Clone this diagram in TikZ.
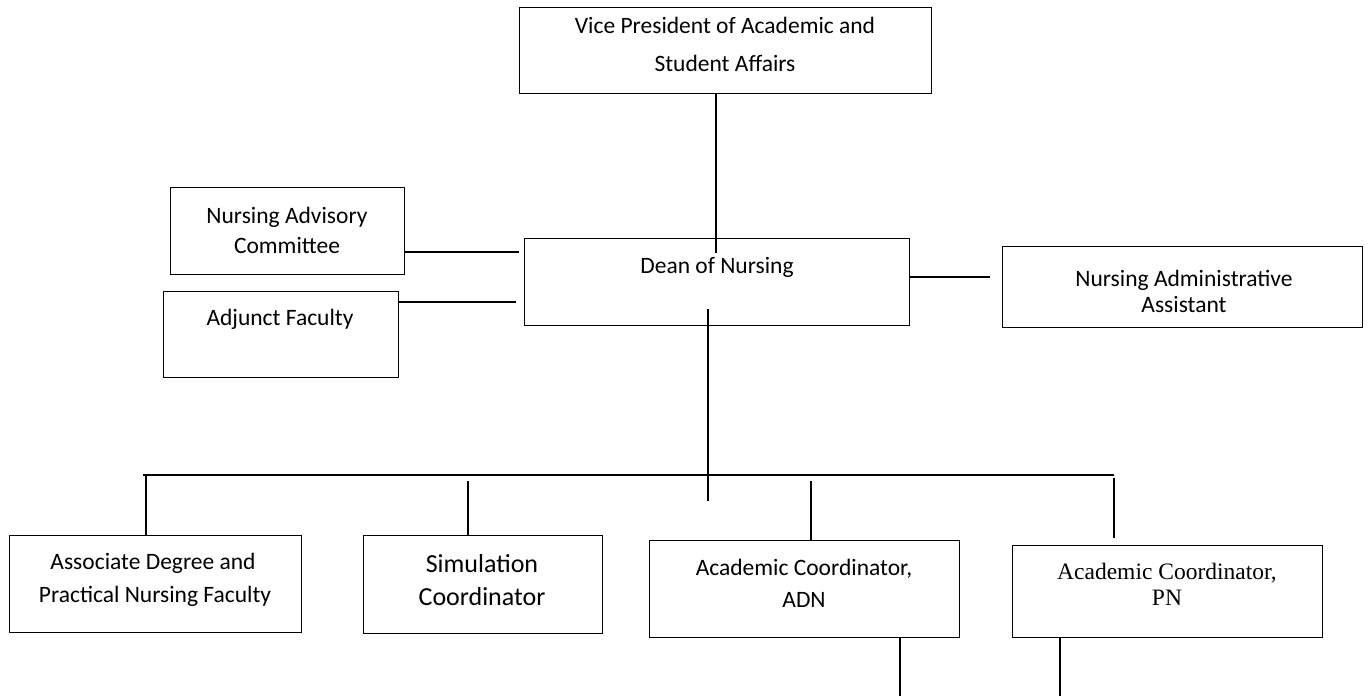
\documentclass[tikz,border=0pt]{standalone}
\usepackage{fontspec}
\setmainfont{Carlito}
\newfontfamily\timesfont{Liberation Serif}
\begin{document}
\begin{tikzpicture}[x=1pt,y=-1pt,
  box/.style={draw, line width=1.3pt, inner sep=0pt, anchor=north west},
  lbl/.style={anchor=base, inner sep=0pt, font=\fontsize{23.5}{28}\selectfont},
  lblbig/.style={anchor=base, inner sep=0pt, font=\fontsize{26}{31}\selectfont},
  lbltm/.style={anchor=base, inner sep=0pt, font=\timesfont\fontsize{23.5}{28}\selectfont},
  conn/.style={line width=1.3pt}]
\useasboundingbox (0,0) rectangle (1368,696);

% boxes
\node[box, minimum width=412pt, minimum height=86pt] (vp) at (519,7) {};
\node[box, minimum width=234pt, minimum height=87pt] (nac) at (170,187) {};
\node[box, minimum width=235pt, minimum height=86pt] (af) at (163,291) {};
\node[box, minimum width=385pt, minimum height=87pt] (dean) at (524,238) {};
\node[box, minimum width=360pt, minimum height=81pt] (naa) at (1002,246) {};
\node[box, minimum width=292pt, minimum height=97pt] (adp) at (9,535) {};
\node[box, minimum width=239pt, minimum height=98pt] (sim) at (363,535) {};
\node[box, minimum width=310pt, minimum height=97pt] (adn) at (649,540) {};
\node[box, minimum width=310pt, minimum height=92pt] (pn) at (1012,545) {};

% texts
\node[lbl] (vpt1) at (725,33) {Vice President of Academic and};
\node[lbl] (vpt2) at (725,71) {Student Affairs};
\node[lbl] (nact1) at (287,223) {Nursing Advisory};
\node[lbl] (nact2) at (287,253) {Committee};
\node[lbl] (aft1) at (280,325) {Adjunct Faculty};
\node[lbl] (deant) at (717,273) {Dean of Nursing};
\node[lbl] (naat1) at (1184,286) {Nursing Administrative};
\node[lbl] (naat2) at (1184,312) {Assistant};
\node[lbl] (adpt1) at (153,569) {Associate Degree and};
\node[lbl] (adpt2) at (155,602) {Practical Nursing Faculty};
\node[lblbig] (simt1) at (482,572) {Simulation};
\node[lblbig] (simt2) at (482,605) {Coordinator};
\node[lbl] (adnt1) at (804,575) {Academic Coordinator,};
\node[lbl] (adnt2) at (804,607) {ADN};
\node[lbltm] (pnt1) at (1167,579) {Academic Coordinator,};
\node[lbltm] (pnt2) at (1167,605) {PN};

% connector end points
\coordinate (d1) at (716,253);
\coordinate (n1) at (519,252);
\coordinate (a1) at (516,302);
\coordinate (s1) at (990,277);
\coordinate (d2) at (708,309);
\coordinate (d3) at (708,501);
\coordinate (bl) at (143,475);
\coordinate (br) at (1114,475);
\coordinate (t1) at (146,475);
\coordinate (t2) at (468,481);
\coordinate (t3) at (811,481);
\coordinate (t4) at (1114,478);
\coordinate (t4b) at (1114,538);
\coordinate (b1) at (900,696);
\coordinate (b2) at (1060,696);

% connectors
\draw[conn] (vp.south -| d1) -- (d1);
\draw[conn] (nac.east |- n1) -- (n1);
\draw[conn] (af.east |- a1) -- (a1);
\draw[conn] (dean.east |- s1) -- (s1);
\draw[conn] (d2) -- (d3);
\draw[conn] (bl) -- (br);
\draw[conn] (t1) -- (adp.north -| t1);
\draw[conn] (t2) -- (sim.north -| t2);
\draw[conn] (t3) -- (adn.north -| t3);
\draw[conn] (t4) -- (t4b);
\draw[conn] (adn.south -| b1) -- (b1);
\draw[conn] (pn.south -| b2) -- (b2);
\end{tikzpicture}
\end{document}
